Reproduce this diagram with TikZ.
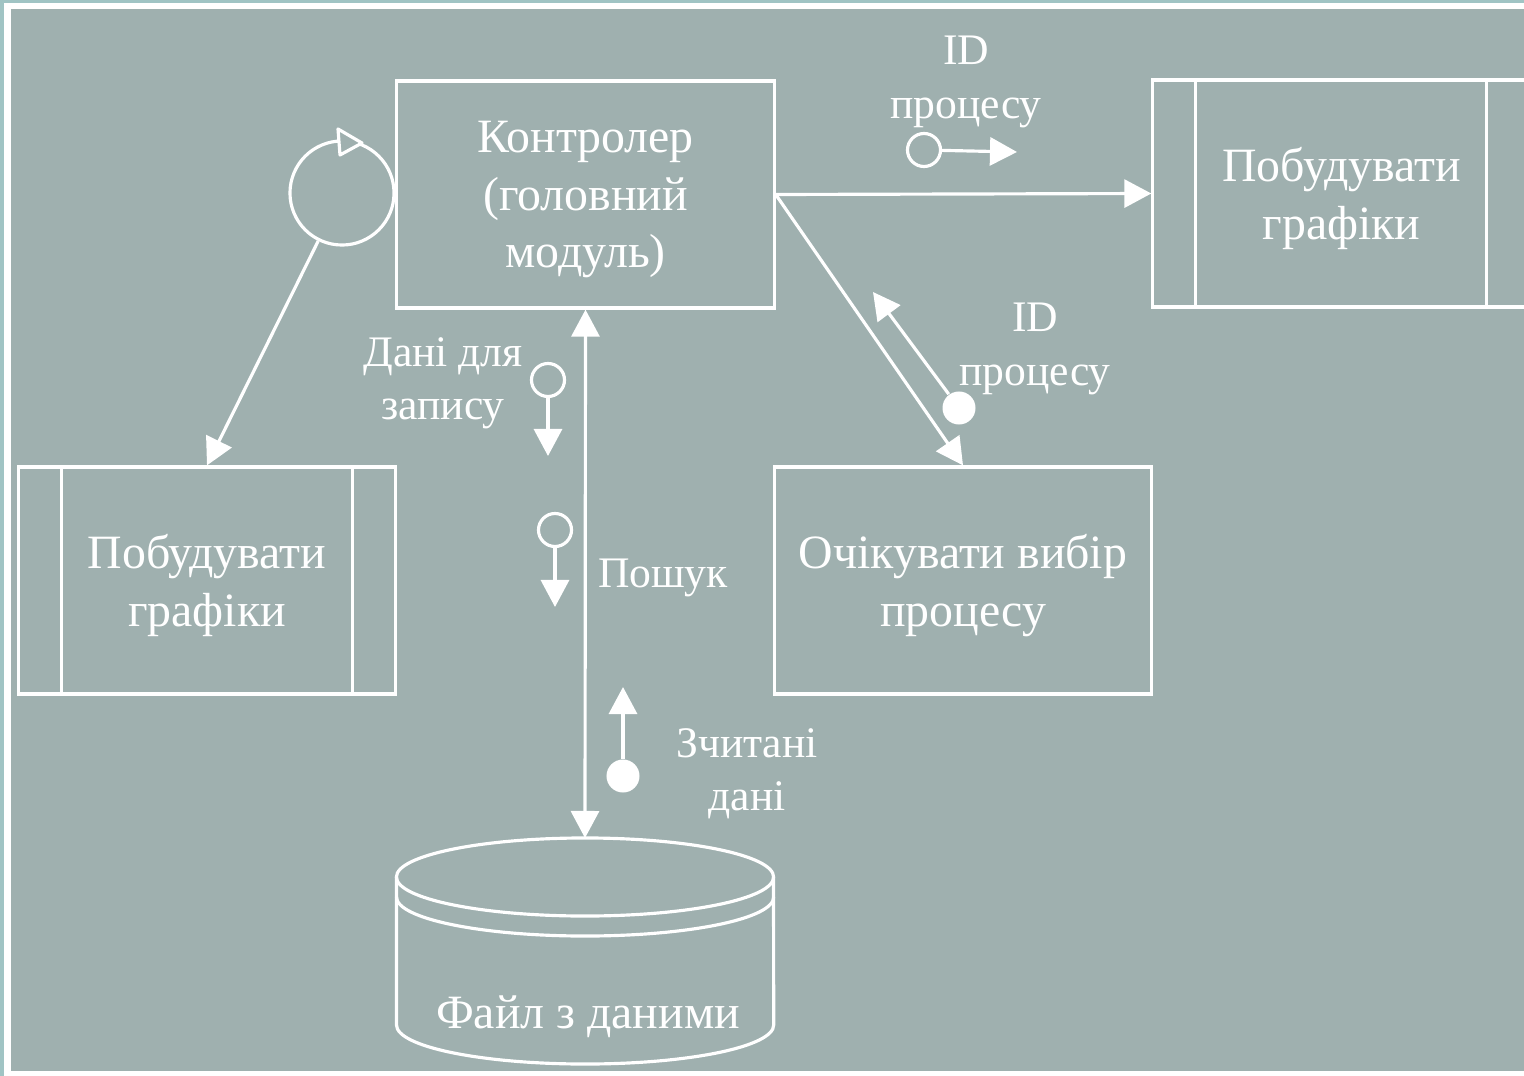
\documentclass[tikz,border=0pt]{standalone}
\usepackage{fontspec}
\setmainfont{Liberation Serif}
\usetikzlibrary{arrows.meta}

\definecolor{bgfill}{RGB}{159,176,175}
\definecolor{edgeteal}{RGB}{160,196,196}

\tikzset{
  wline/.style={draw=white, line width=0.9pt},
  flow/.style={wline, -{Triangle[length=0.27cm,width=0.28cm]}},
  procbox/.style={wline, minimum width=3.77cm, minimum height=2.27cm, align=center,
    text=white, font=\fontsize{13.6}{16.3}\selectfont, text depth=0pt},
  lbl/.style={text=white, align=center, font=\fontsize{12.4}{15.2}\selectfont, yshift=-0.05cm},
  odot/.style={circle, wline, minimum size=0.33cm, inner sep=0pt},
  fdot/.style={circle, fill=white, minimum size=0.33cm, inner sep=0pt}
}

\begin{document}
\begin{tikzpicture}[x=0.01cm, y=-0.01cm]
\useasboundingbox (0,0) rectangle (1524,1076);
% frame
\fill[white] (0,0) rectangle (1524,1076);
\fill[edgeteal] (0,0) rectangle (1524,3);
\fill[edgeteal] (0,0) rectangle (3.5,1076);
\fill[bgfill] (10.5,9.5) rectangle (1524,1071);

% processes
\node[procbox] (ctrl) at (585.5,194.5) {Контролер\\(головний\\модуль)};
\node[procbox] (wait) at (963,580.5) {Очікувати вибір\\процесу};
\node[procbox] (lbox) at (207,580.5) {Побудувати\\графіки};
\node[procbox] (rbox) at (1341.5,193.5) {Побудувати\\графіки};
\draw[wline] ([xshift=0.45cm]lbox.north west) -- ([xshift=0.45cm]lbox.south west);
\draw[wline] ([xshift=-0.45cm]lbox.north east) -- ([xshift=-0.45cm]lbox.south east);
\draw[wline] ([xshift=0.44cm]rbox.north west) -- ([xshift=0.44cm]rbox.south west);
\draw[wline] ([xshift=-0.45cm]rbox.north east) -- ([xshift=-0.45cm]rbox.south east);

% data file
\draw[wline] (585,877) ellipse [x radius=1.885cm, y radius=0.39cm];
\draw[wline] (396.5,897) arc [start angle=180, end angle=360, x radius=1.885cm, y radius=0.39cm];
\draw[wline] (396.5,877) -- (396.5,1025) arc [start angle=180, end angle=360, x radius=1.885cm, y radius=0.39cm] -- (773.5,877);
\node[lbl, font=\fontsize{13.6}{16.3}\selectfont] (file) at (588,1012) {Файл з даними};
\coordinate (filetop) at (585,838);

% loop
\node[circle, wline, minimum size=1.04cm, inner sep=0pt] (loop) at (342,193) {};
\filldraw[wline, fill=bgfill, line join=round] (338,129) -- (362,143) -- (340,155) -- cycle;

% connectors
\draw[flow] (loop) -- (lbox.north);
\draw[flow] (ctrl.east) -- (rbox.west);
\draw[flow] (ctrl.east) -- (wait.north);
\draw[wline, {Triangle[length=0.27cm,width=0.28cm]}-{Triangle[length=0.27cm,width=0.28cm]}] (ctrl.south) -- (filetop);

% flow labels
\node[lbl] (idtop) at (966,77) {ID\\процесу};
\node[odot] (idtopdot) at (924,150) {};
\coordinate (idtoptip) at (1017,152);
\draw[flow] (idtopdot) -- (idtoptip);

\node[lbl] (idret) at (1035,344) {ID\\процесу};
\node[fdot] (retdot) at (959,408) {};
\coordinate (rettip) at (873,292);
\draw[flow] (retdot) -- (rettip);

\node[lbl] (wrdata) at (443,378) {Дані для\\запису};
\node[odot] (wrdot) at (548,380) {};
\coordinate (wrtip) at (548,456);
\draw[flow] (wrdot) -- (wrtip);

\node[lbl] (search) at (663,573) {Пошук};
\node[odot] (srdot) at (555,530) {};
\coordinate (srtip) at (555,607);
\draw[flow] (srdot) -- (srtip);

\node[lbl] (rddata) at (747,769) {Зчитані\\дані};
\node[fdot] (rddot) at (623,776) {};
\coordinate (rdtip) at (623,687);
\draw[flow] (rddot) -- (rdtip);
\end{tikzpicture}
\end{document}
